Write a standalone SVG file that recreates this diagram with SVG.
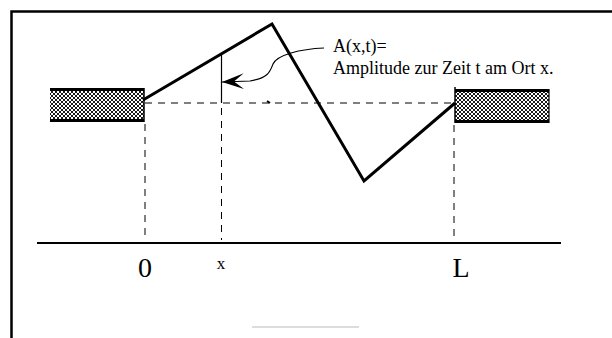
<svg xmlns="http://www.w3.org/2000/svg" width="612" height="338" viewBox="0 0 612 338">
<style>
.frame{fill:none;stroke:#000;stroke-width:2.5}
.string{fill:none;stroke:#000;stroke-width:3;stroke-linejoin:miter}
.dash{fill:none;stroke:#000;stroke-width:1;stroke-dasharray:7 6}
.thin{fill:none;stroke:#000;stroke-width:1.2}
.axis{fill:none;stroke:#000;stroke-width:2}
.lbl{font-family:"Liberation Serif","Times New Roman",serif;fill:#000}
</style>
<defs>
<pattern id="hatch" width="4" height="4" patternUnits="userSpaceOnUse">
<rect width="4" height="4" fill="#fff"/>
<path d="M0,0 L4,4 M4,0 L0,4" stroke="#000" stroke-width="0.9"/>
</pattern>
<marker id="ah" markerWidth="24" markerHeight="16" refX="22" refY="8" orient="auto" markerUnits="userSpaceOnUse">
<path d="M22,8 L0,0 L10,8 L0,16 Z" fill="#000"/>
</marker>
</defs>
<g id="frame">
<path class="frame" d="M11.5,338 L11.5,11.5 L612,11.5"/>
<line x1="252" y1="327" x2="359" y2="327" stroke="#bbb" stroke-width="1.2"/>
</g>
<g id="left-clamp">
<rect x="50" y="88" width="94" height="34" fill="url(#hatch)"/>
<path d="M50,89.5 L144,89.5 M50,120.5 L144,120.5" stroke="#000" stroke-width="3"/>
<line x1="144" y1="88" x2="144" y2="122" stroke="#000" stroke-width="1.5"/>
</g>
<g id="right-clamp">
<rect x="455" y="89" width="94" height="34" fill="url(#hatch)"/>
<path d="M455,90.5 L549,90.5 M455,121.5 L549,121.5" stroke="#000" stroke-width="3"/>
<line x1="455" y1="87" x2="455" y2="123" stroke="#000" stroke-width="1.5"/>
<line x1="549" y1="89" x2="549" y2="123" stroke="#000" stroke-width="1.2"/>
</g>
<g id="string">
<polyline class="string" points="143,100 272,24 364,181 455,103"/>
</g>
<g id="axis">
<line class="axis" x1="37" y1="243" x2="561" y2="243"/>
<text class="lbl" x="145" y="277" font-size="28" text-anchor="middle">0</text>
<text class="lbl" x="221" y="269" font-size="17" text-anchor="middle">x</text>
<text class="lbl" x="461" y="277" font-size="28" text-anchor="middle">L</text>
</g>
<g id="connectors">
<line class="dash" x1="145" y1="103" x2="455" y2="103"/>
<line class="dash" x1="145" y1="124" x2="145" y2="240"/>
<line class="dash" x1="454" y1="125" x2="454" y2="240"/>
<line class="thin" x1="221.5" y1="55" x2="221.5" y2="103"/>
<line class="dash" x1="221.5" y1="108" x2="221.5" y2="240"/>
<path d="M267,101 L270,103" stroke="#000" stroke-width="2"/>
<path class="thin" d="M324,48 C300,49 277,55 273,64 C270,72 268,78 250,81 L222,82" marker-end="url(#ah)"/>
</g>
<g id="annotation">
<text class="lbl" x="333" y="52" font-size="18">A(x,t)=</text>
<text class="lbl" x="333" y="74" font-size="18">Amplitude zur Zeit t am Ort x.</text>
</g>
</svg>
